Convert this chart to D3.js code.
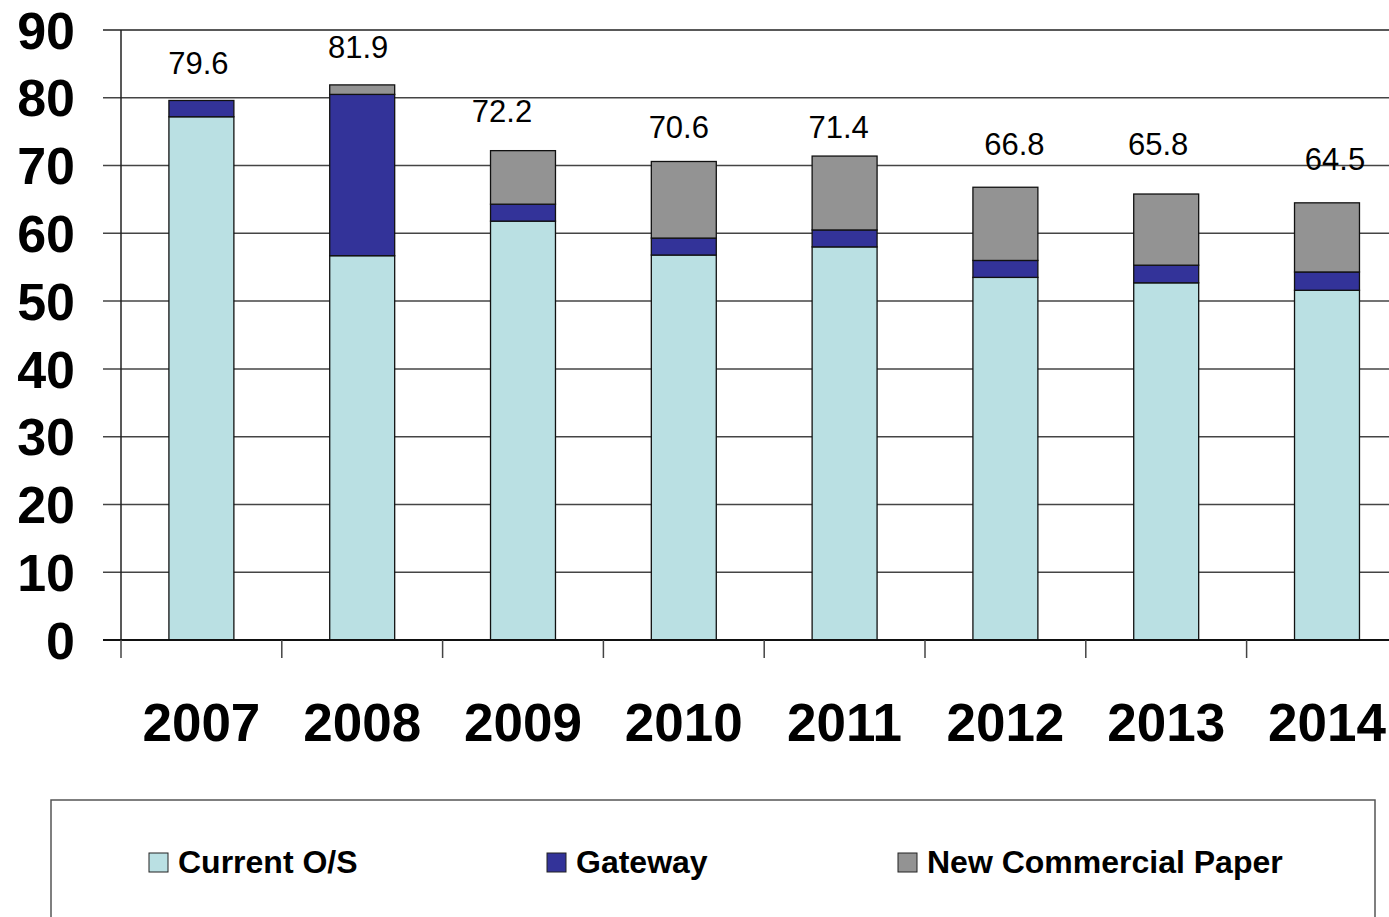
<!DOCTYPE html>
<html>
<head>
<meta charset="utf-8">
<script src="https://cdn.jsdelivr.net/npm/d3@7/dist/d3.min.js"></script>
<style>
  html, body { margin: 0; padding: 0; background: #fff; }
  svg { display: block; font-family: "Liberation Sans", Arial, sans-serif; }
</style>
</head>
<body>
<svg id="chart" width="1389" height="917"></svg>
<script>
// Commercial paper outstanding by year, stacked by source
const years = ["2007", "2008", "2009", "2010", "2011", "2012", "2013", "2014"];
const currentOS = [77.2, 56.7, 61.8, 56.8, 58.0, 53.5, 52.7, 51.6];
const gateway = [2.4, 23.8, 2.5, 2.5, 2.5, 2.5, 2.6, 2.7];
const newCP = [0.0, 1.4, 7.9, 11.3, 10.9, 10.8, 10.5, 10.2];
const yTicks = [0, 10, 20, 30, 40, 50, 60, 70, 80, 90];

const seriesNames = ["Current O/S", "Gateway", "New Commercial Paper"];
const seriesColors = ["#BAE0E3", "#333399", "#939393"];

// small nudges for the total labels (dx, dy in px)
const labelNudge = [[-3, 0], [-4, -1], [-21, -3], [-5, 3], [-6, 8], [9, -6], [-8, -13], [8, -7]];

const svg = d3.select("#chart");

const plotLeft = 121, plotTop = 30, plotBottom = 640;
const step = 160.8;
const x = d3.scaleBand()
  .domain(years)
  .range([plotLeft, plotLeft + step * years.length])
  .paddingInner(0.596)
  .paddingOuter(0.298);
const y = d3.scaleLinear().domain([0, 90]).range([plotBottom, plotTop]);

const rows = years.map((yr, i) => ({
  year: yr,
  "Current O/S": currentOS[i],
  "Gateway": gateway[i],
  "New Commercial Paper": newCP[i]
}));
const stack = d3.stack().keys(seriesNames)(rows);

// horizontal gridlines, extended left as tick marks
svg.append("g")
  .selectAll("line")
  .data(yTicks)
  .join("line")
  .attr("x1", plotLeft - 18)
  .attr("x2", 1389)
  .attr("y1", d => y(d))
  .attr("y2", d => y(d))
  .attr("stroke", d => d === 90 ? "#222" : "#444")
  .attr("stroke-width", 1.5);

// y axis labels
svg.append("g")
  .selectAll("text")
  .data(yTicks)
  .join("text")
  .attr("x", 75)
  .attr("y", d => y(d))
  .attr("dy", "0.36em")
  .attr("text-anchor", "end")
  .attr("font-size", 52)
  .attr("font-weight", "bold")
  .attr("fill", "#000")
  .text(d => d);

// stacked bars
svg.append("g")
  .selectAll("g")
  .data(stack)
  .join("g")
  .attr("fill", (d, i) => seriesColors[i])
  .selectAll("rect")
  .data(d => d.filter(s => s[1] - s[0] > 0))
  .join("rect")
  .attr("x", d => x(d.data.year))
  .attr("width", x.bandwidth())
  .attr("y", d => y(d[1]))
  .attr("height", d => y(d[0]) - y(d[1]))
  .attr("stroke", "#111")
  .attr("stroke-width", 1.3);

// vertical axis line
svg.append("line")
  .attr("x1", plotLeft).attr("x2", plotLeft)
  .attr("y1", plotTop).attr("y2", plotBottom)
  .attr("stroke", "#222").attr("stroke-width", 1.5);

// bottom axis line and category separators
svg.append("line")
  .attr("x1", plotLeft - 18).attr("x2", 1389)
  .attr("y1", plotBottom).attr("y2", plotBottom)
  .attr("stroke", "#111").attr("stroke-width", 2);

svg.append("g")
  .selectAll("line")
  .data(years)
  .join("line")
  .attr("x1", d => x(d) - x.step() * x.paddingInner() / 2)
  .attr("x2", d => x(d) - x.step() * x.paddingInner() / 2)
  .attr("y1", plotBottom)
  .attr("y2", plotBottom + 18)
  .attr("stroke", "#444")
  .attr("stroke-width", 1.5);

// year labels
svg.append("g")
  .selectAll("text")
  .data(years)
  .join("text")
  .attr("x", d => x(d) + x.bandwidth() / 2)
  .attr("y", 741)
  .attr("text-anchor", "middle")
  .attr("font-size", 53)
  .attr("font-weight", "bold")
  .attr("fill", "#000")
  .text(d => d);

// total labels above each stack
const topLayer = stack[stack.length - 1];
svg.append("g")
  .selectAll("text")
  .data(topLayer)
  .join("text")
  .attr("x", (d, i) => x(d.data.year) + x.bandwidth() / 2 + labelNudge[i][0])
  .attr("y", (d, i) => y(d[1]) - 26 + labelNudge[i][1])
  .attr("text-anchor", "middle")
  .attr("font-size", 31)
  .attr("fill", "#000")
  .text(d => d3.format(".1f")(d[1]));

// legend
const legend = svg.append("g");
legend.append("rect")
  .attr("x", 51).attr("y", 800)
  .attr("width", 1324).attr("height", 140)
  .attr("fill", "none")
  .attr("stroke", "#555")
  .attr("stroke-width", 1.5);

const legendX = [149, 547, 898];
const items = legend.selectAll("g")
  .data(seriesNames)
  .join("g")
  .attr("transform", (d, i) => `translate(${legendX[i]},853)`);
items.append("rect")
  .attr("width", 19).attr("height", 19)
  .attr("fill", (d, i) => seriesColors[i])
  .attr("stroke", "#222").attr("stroke-width", 1);
items.append("text")
  .attr("x", 29).attr("y", 20)
  .attr("font-size", 32)
  .attr("font-weight", "bold")
  .attr("fill", "#000")
  .text(d => d);
</script>
</body>
</html>
